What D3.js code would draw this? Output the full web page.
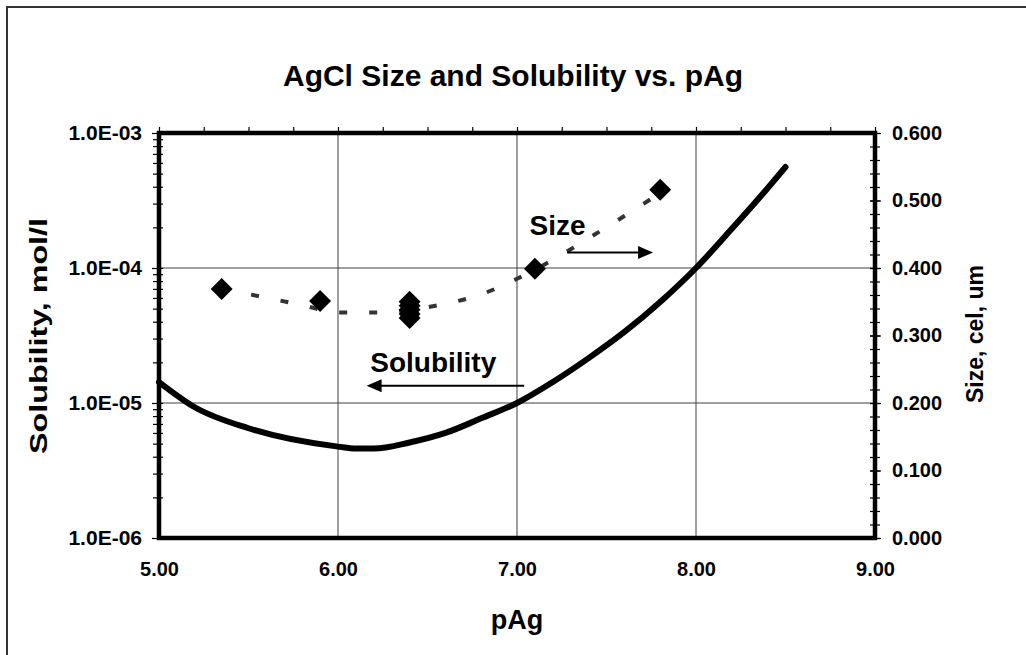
<!DOCTYPE html>
<html>
<head>
<meta charset="utf-8">
<script src="https://cdn.jsdelivr.net/npm/d3@7"></script>
<style>
  body { margin: 0; background: #fff; }
  text { font-family: "Liberation Sans", Arial, sans-serif; font-weight: bold; fill: #000; }
</style>
</head>
<body>
<div id="chart"></div>
<script>
// solubility curve (left, log axis)
var solPAg = [5.0, 5.2, 5.5, 6.0, 6.1, 6.2, 6.4, 6.6, 6.8, 7.0, 7.2, 7.4, 7.6, 7.8, 8.0, 8.2, 8.4, 8.5];
var solValues = [1.43e-5, 9.3e-6, 6.5e-6, 4.75e-6, 4.6e-6, 4.6e-6, 5.1e-6, 6.0e-6, 7.7e-6, 1.0e-5,
                 1.43e-5, 2.15e-5, 3.36e-5, 5.6e-5, 1.0e-4, 1.95e-4, 3.9e-4, 5.6e-4];

// measured grain size (right axis)
var sizePAg = [5.35, 5.9, 6.4, 6.4, 6.4, 6.4, 6.4, 7.1, 7.8];
var sizeValues = [0.369, 0.351, 0.350, 0.344, 0.338, 0.332, 0.326, 0.399, 0.516];

// trend line through the size points
var trendPAg = [5.35, 5.6, 5.8, 6.0, 6.2, 6.4, 6.6, 6.8, 7.0, 7.2, 7.4, 7.6, 7.8];
var trendSize = [0.369, 0.356, 0.345, 0.334, 0.334, 0.338, 0.347, 0.361, 0.384, 0.412, 0.444, 0.477, 0.511];

var xTicks = [5, 6, 7, 8, 9];
var leftTicks = [1e-6, 1e-5, 1e-4, 1e-3];
var rightTicks = [0, 0.1, 0.2, 0.3, 0.4, 0.5, 0.6];

var W = 1026, H = 655;
var margin = {top: 133, right: 151, bottom: 117, left: 159};
var width = W - margin.left - margin.right;
var height = H - margin.top - margin.bottom;

var svg = d3.select("#chart").append("svg")
    .attr("width", W)
    .attr("height", H);

// outer chart border (only top and left fall inside the picture)
svg.append("rect")
    .attr("x", 7).attr("y", 7)
    .attr("width", W + 20).attr("height", H + 20)
    .attr("fill", "none")
    .attr("stroke", "#333")
    .attr("stroke-width", 2);

var g = svg.append("g")
    .attr("transform", "translate(" + margin.left + "," + margin.top + ")");

var x = d3.scaleLinear().domain([5, 9]).range([0, width]);
var yL = d3.scaleLog().domain([1e-6, 1e-3]).range([height, 0]);
var yR = d3.scaleLinear().domain([0, 0.6]).range([height, 0]);

// gridlines
g.selectAll(".vgrid").data([6, 7, 8]).enter().append("line")
    .attr("x1", function(d){ return x(d); }).attr("x2", function(d){ return x(d); })
    .attr("y1", 0).attr("y2", height)
    .attr("stroke", "#404040").attr("stroke-width", 1);
g.selectAll(".hgrid").data([1e-5, 1e-4]).enter().append("line")
    .attr("x1", 0).attr("x2", width)
    .attr("y1", function(d){ return yL(d); }).attr("y2", function(d){ return yL(d); })
    .attr("stroke", "#404040").attr("stroke-width", 1);

// left minor ticks (2..9 per decade)
var minor = [];
[1e-6, 1e-5, 1e-4].forEach(function(dec){
    for (var k = 2; k <= 9; k++) minor.push(dec * k);
});
var leftMinor = g.append("g")
    .call(d3.axisLeft(yL).tickValues(minor).tickSize(6).tickFormat(""));
leftMinor.selectAll("line").attr("x1", 4).attr("stroke-width", 1.2);
leftMinor.select(".domain").remove();

var leftAxis = g.append("g")
    .call(d3.axisLeft(yL).tickValues(leftTicks).tickSize(7).tickPadding(10)
        .tickFormat(function(d){
            var e = Math.round(Math.log10(d));
            return "1.0E-" + (e < -9 ? "" : "0") + Math.abs(e);
        }));
leftAxis.select(".domain").remove();
leftAxis.selectAll("line").attr("x1", 4).attr("stroke-width", 1.2);
leftAxis.selectAll("text").style("font-size", "21px").style("font-family", "Liberation Sans, Arial");

// right axis, minor ticks each 0.02
var rightMinor = d3.range(0, 31).map(function(i){ return i * 0.02; });
var rAxisMinor = g.append("g")
    .attr("transform", "translate(" + width + ",0)")
    .call(d3.axisRight(yR).tickValues(rightMinor).tickSize(5).tickFormat(""));
rAxisMinor.selectAll("line").attr("x1", -5).attr("stroke-width", 1.2);
rAxisMinor.select(".domain").remove();

var rAxis = g.append("g")
    .attr("transform", "translate(" + width + ",0)")
    .call(d3.axisRight(yR).tickValues(rightTicks).tickSize(6).tickPadding(11)
        .tickFormat(d3.format(".3f")));
rAxis.select(".domain").remove();
rAxis.selectAll("line").attr("x1", -5).attr("stroke-width", 1.2);
rAxis.selectAll("text").style("font-size", "20px").style("font-family", "Liberation Sans, Arial");

// top ticks every 0.25
var topAxis = g.append("g")
    .call(d3.axisTop(x).tickValues(d3.range(0, 17).map(function(i){ return 5 + i * 0.25; }))
        .tickSize(6).tickFormat(""));
topAxis.select(".domain").remove();
topAxis.selectAll("line").attr("stroke-width", 1.2);

// bottom labels
var bAxis = g.append("g")
    .attr("transform", "translate(0," + height + ")")
    .call(d3.axisBottom(x).tickValues(xTicks).tickSize(0).tickPadding(24)
        .tickFormat(d3.format(".2f")));
bAxis.select(".domain").remove();
bAxis.selectAll("text").style("font-size", "20px").style("font-family", "Liberation Sans, Arial");

// plot frame
g.append("rect")
    .attr("x", 0).attr("y", 0)
    .attr("width", width).attr("height", height)
    .attr("fill", "none")
    .attr("stroke", "#000")
    .attr("stroke-width", 4.5);

// solubility line
var solData = solPAg.map(function(d, i){ return [d, solValues[i]]; });
g.append("path")
    .datum(solData)
    .attr("fill", "none")
    .attr("stroke", "#000")
    .attr("stroke-width", 6)
    .attr("stroke-linejoin", "round")
    .attr("stroke-linecap", "round")
    .attr("d", d3.line()
        .x(function(d){ return x(d[0]); })
        .y(function(d){ return yL(d[1]); })
        .curve(d3.curveMonotoneX));

// size trend line (dashed)
var trendData = trendPAg.map(function(d, i){ return [d, trendSize[i]]; });
g.append("path")
    .datum(trendData)
    .attr("fill", "none")
    .attr("stroke", "#333")
    .attr("stroke-width", 4)
    .attr("stroke-dasharray", "8,22")
    .attr("d", d3.line()
        .x(function(d){ return x(d[0]); })
        .y(function(d){ return yR(d[1]); })
        .curve(d3.curveMonotoneX));

// size points
var diamond = d3.symbol().type(d3.symbolSquare).size(240);
g.selectAll(".size-pt")
    .data(sizePAg.map(function(d, i){ return [d, sizeValues[i]]; }))
    .enter().append("path")
    .attr("class", "size-pt")
    .attr("d", diamond)
    .attr("transform", function(d){
        return "translate(" + x(d[0]) + "," + yR(d[1]) + ") rotate(45)";
    })
    .attr("fill", "#000");

// annotations
function arrow(x1, x2, yy){
    var dir = x2 > x1 ? 1 : -1;
    g.append("line")
        .attr("x1", x1).attr("x2", x2 - dir * 12)
        .attr("y1", yy).attr("y2", yy)
        .attr("stroke", "#000").attr("stroke-width", 2);
    g.append("path")
        .attr("d", "M" + x2 + "," + yy + " L" + (x2 - dir * 15) + "," + (yy - 6.5) +
             " L" + (x2 - dir * 15) + "," + (yy + 6.5) + "Z")
        .attr("fill", "#000");
}
g.append("text")
    .attr("x", x(7.07)).attr("y", yR(0.449))
    .style("font-size", "28px")
    .text("Size");
arrow(x(7.28), x(7.76), yR(0.423));

g.append("text")
    .attr("x", x(6.18)).attr("y", yL(1.7e-5))
    .style("font-size", "28px")
    .text("Solubility");
arrow(x(7.04), x(6.16), yL(1.34e-5));

// titles
svg.append("text")
    .attr("x", 513).attr("y", 86)
    .attr("text-anchor", "middle")
    .style("font-size", "30px")
    .text("AgCl Size and Solubility vs. pAg");

svg.append("text")
    .attr("x", 517).attr("y", 629)
    .attr("text-anchor", "middle")
    .style("font-size", "27px")
    .text("pAg");

svg.append("text")
    .attr("transform", "translate(47,336) rotate(-90)")
    .attr("text-anchor", "middle")
    .attr("textLength", 236)
    .attr("lengthAdjust", "spacingAndGlyphs")
    .style("font-size", "24px")
    .text("Solubility, mol/l");

svg.append("text")
    .attr("transform", "translate(983,334) rotate(-90)")
    .attr("text-anchor", "middle")
    .style("font-size", "23px")
    .text("Size, cel, um");
</script>
</body>
</html>
